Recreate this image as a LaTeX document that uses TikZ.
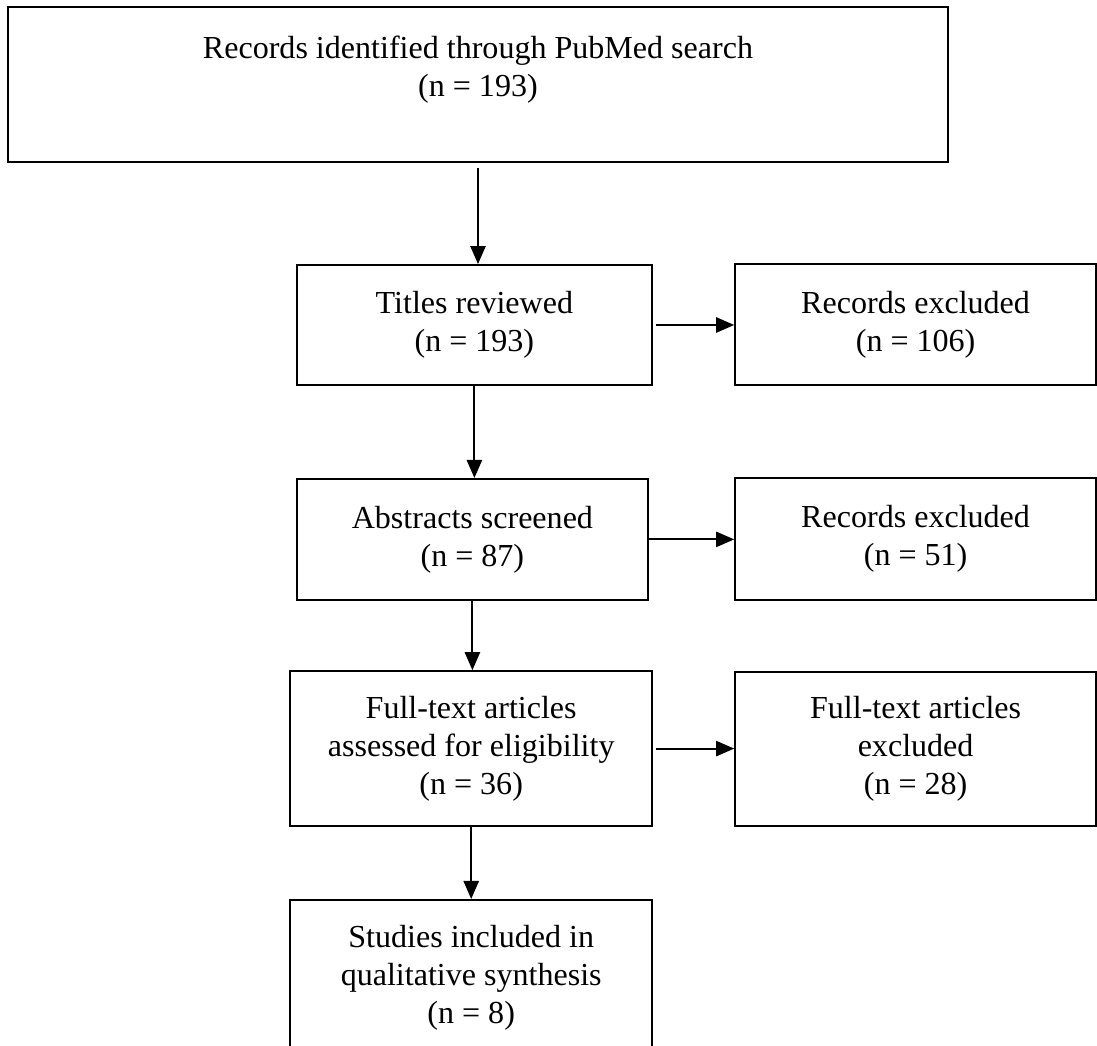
\documentclass[tikz,border=0pt]{standalone}
\usepackage{fontspec}
\setmainfont{Liberation Serif}
\usetikzlibrary{arrows.meta}

\begin{document}
\begin{tikzpicture}
    \clip (0,0) rectangle (27.425,26.125);

    \begin{scope}[every node/.style={rectangle,draw,line width=1.3pt,inner sep=0pt,
        align=center,font=\fontsize{22.8}{27}\selectfont}]
      \node[minimum width=23.5cm,minimum height=3.875cm] (rec) at (11.95,24.01)
        {Records identified through PubMed search\\(n = 193)\\[-0.3cm]\strut};
      \node[minimum width=8.875cm,minimum height=3cm] (tit) at (11.86,18.0)
        {Titles reviewed\\(n = 193)};
      \node[minimum width=9.025cm,minimum height=3.025cm] (ex1) at (22.89,18.01)
        {Records excluded\\(n = 106)};
      \node[minimum width=8.775cm,minimum height=3.025cm] (abs) at (11.81,12.64)
        {Abstracts screened\\(n = 87)};
      \node[minimum width=9.025cm,minimum height=3.05cm] (ex2) at (22.89,12.65)
        {Records excluded\\(n = 51)};
      \node[minimum width=9.05cm,minimum height=3.875cm] (ful) at (11.78,7.41)
        {Full-text articles\\assessed for eligibility\\(n = 36)};
      \node[minimum width=9.025cm,minimum height=3.85cm] (ex3) at (22.89,7.4)
        {Full-text articles\\excluded\\(n = 28)};
      \node[minimum width=9.05cm,minimum height=3.875cm] (stu) at (11.78,1.69)
        {Studies included in\\qualitative synthesis\\(n = 8)};
    \end{scope}

    \begin{scope}[>={Triangle[length=0.45cm,width=0.38cm]},
        every edge/.style={draw,line width=1.3pt}]
      \path [->] ([yshift=-0.12cm]rec.south) edge (rec.south |- tit.north);
      \path [->] (tit.south) edge (tit.south |- abs.north);
      \path [->] (abs.south) edge (abs.south |- ful.north);
      \path [->] (ful.south) edge (ful.south |- stu.north);
      \path [->] ([xshift=0.08cm]tit.east) edge (tit.east -| ex1.west);
      \path [->] (abs.east) edge (abs.east -| ex2.west);
      \path [->] ([xshift=0.08cm]ful.east) edge (ful.east -| ex3.west);
    \end{scope}
\end{tikzpicture}
\end{document}
